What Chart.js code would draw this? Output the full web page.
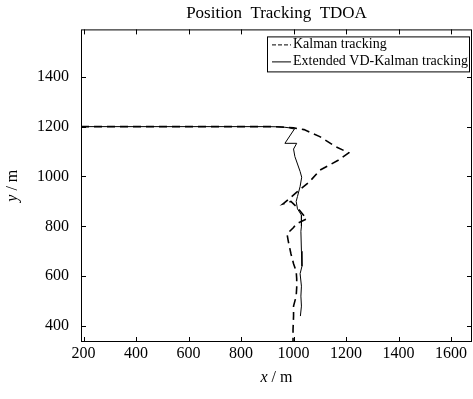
<!DOCTYPE html>
<html>
<head>
<meta charset="utf-8">
<script src="https://cdn.jsdelivr.net/npm/chart.js@4.4.1/dist/chart.umd.min.js"></script>
<style>
  html, body { margin: 0; padding: 0; background: #fff; }
  #wrap { width: 473px; height: 399px; }
</style>
</head>
<body>
<div id="wrap"><canvas id="chart"></canvas></div>
<script>
// Kalman tracking (dashed)
const kalmanX = [190, 930, 1000, 1040, 1100, 1160, 1210, 1170, 1100, 1060, 1010, 960, 990, 1010, 1050, 1010, 1000, 975, 980, 990, 1000, 1010, 1012, 1012, 1010, 1000, 1000, 998, 998];
const kalmanY = [1200, 1200, 1195, 1188, 1160, 1120, 1095, 1065, 1025, 978, 935, 890, 900, 880, 830, 810, 795, 770, 740, 690, 650, 620, 590, 555, 520, 480, 440, 385, 337];

// Extended VD-Kalman tracking (solid)
const extX = [190, 900, 955, 985, 1003, 967, 1012, 1000, 1005, 1015, 1025, 1031, 1025, 1015, 1010, 1015, 1030, 1030, 1028, 1030, 1032, 1025, 1030, 1028, 1030, 1026];
const extY = [1200, 1200, 1199, 1195, 1190, 1133, 1133, 1110, 1080, 1050, 1020, 997, 960, 920, 900, 870, 845, 800, 780, 700, 640, 610, 560, 520, 480, 440];

const seriesLabels = ['Kalman tracking', 'Extended VD-Kalman tracking'];
const titleText = 'Position  Tracking  TDOA';

const xTicks = [200, 400, 600, 800, 1000, 1200, 1400, 1600];
const yTicks = [400, 600, 800, 1000, 1200, 1400];
const xMin = 190, xMax = 1680;
const yMin = 336, yMax = 1590;

const toPts = (xs, ys) => xs.map((x, i) => ({ x: x, y: ys[i] }));
const serif = '"Liberation Serif", "DejaVu Serif", serif';

// box, inward ticks, axis titles and legend in MATLAB style
const matlabFrame = {
    id: 'matlabFrame',
    afterDraw(chart) {
        const { ctx, chartArea: a, scales } = chart;
        ctx.save();
        ctx.strokeStyle = '#000';
        ctx.lineWidth = 1;
        ctx.strokeRect(a.left + 0.5, a.top + 0.5, a.right - a.left - 1, a.bottom - a.top - 1);

        const tl = 5;
        ctx.beginPath();
        scales.x.ticks.forEach(t => {
            const px = Math.round(scales.x.getPixelForValue(t.value)) + 0.5;
            ctx.moveTo(px, a.bottom); ctx.lineTo(px, a.bottom - tl);
            ctx.moveTo(px, a.top); ctx.lineTo(px, a.top + tl);
        });
        scales.y.ticks.forEach(t => {
            const py = Math.round(scales.y.getPixelForValue(t.value)) + 0.5;
            ctx.moveTo(a.left, py); ctx.lineTo(a.left + tl, py);
            ctx.moveTo(a.right, py); ctx.lineTo(a.right - tl, py);
        });
        ctx.stroke();

        // axis titles: italic variable, upright unit
        const drawLabel = (v, rest, cx, cy) => {
            ctx.font = 'italic 16px ' + serif;
            const w1 = ctx.measureText(v).width;
            ctx.font = '16px ' + serif;
            const w2 = ctx.measureText(rest).width;
            let x0 = cx - (w1 + w2) / 2;
            ctx.textBaseline = 'middle';
            ctx.textAlign = 'left';
            ctx.font = 'italic 16px ' + serif;
            ctx.fillText(v, x0, cy);
            ctx.font = '16px ' + serif;
            ctx.fillText(rest, x0 + w1, cy);
        };
        ctx.fillStyle = '#000';
        drawLabel('x', ' / m', (a.left + a.right) / 2, 378);
        ctx.save();
        ctx.translate(13, (a.top + a.bottom) / 2);
        ctx.rotate(-Math.PI / 2);
        drawLabel('y', ' / m', 0, 0);
        ctx.restore();

        // legend box
        const lw = 202, lh = 35;
        const lx = a.right - 3 - lw, ly = a.top + 7;
        ctx.fillStyle = '#fff';
        ctx.fillRect(lx, ly, lw, lh);
        ctx.strokeRect(lx + 0.5, ly + 0.5, lw, lh);
        ctx.font = '14px ' + serif;
        ctx.textBaseline = 'middle';
        chart.data.datasets.forEach((ds, i) => {
            const yy = ly + 8 + i * 17;
            ctx.beginPath();
            ctx.setLineDash(ds.borderDash ? [4, 2] : []);
            ctx.lineWidth = 1;
            ctx.moveTo(lx + 5, yy + 0.5);
            ctx.lineTo(lx + 24, yy + 0.5);
            ctx.stroke();
            ctx.setLineDash([]);
            ctx.fillStyle = '#000';
            ctx.fillText(ds.label, lx + 26, yy);
        });
        ctx.restore();
    }
};

new Chart(document.getElementById('chart'), {
    type: 'scatter',
    data: {
        datasets: [
            {
                label: seriesLabels[0],
                data: toPts(kalmanX, kalmanY),
                showLine: true,
                borderColor: '#000',
                borderWidth: 1.6,
                borderDash: [8, 5],
                pointRadius: 0,
                tension: 0
            },
            {
                label: seriesLabels[1],
                data: toPts(extX, extY),
                showLine: true,
                borderColor: '#000',
                borderWidth: 1,
                pointRadius: 0,
                tension: 0
            }
        ]
    },
    options: {
        responsive: true,
        maintainAspectRatio: false,
        animation: false,
        layout: { padding: { left: 0, right: 1, top: 0, bottom: 0 } },
        plugins: {
            legend: { display: false },
            tooltip: { enabled: false },
            title: {
                display: true,
                text: titleText,
                fullSize: false,
                color: '#000',
                font: { family: serif, size: 17, weight: 'normal' },
                padding: { top: 3, bottom: 6 }
            }
        },
        scales: {
            x: {
                type: 'linear',
                min: xMin,
                max: xMax,
                afterBuildTicks: s => { s.ticks = xTicks.map(v => ({ value: v })); },
                afterFit: s => { s.height = 57; },
                grid: { drawOnChartArea: false, drawTicks: false },
                border: { display: false },
                ticks: { color: '#000', padding: 2, maxRotation: 0, autoSkip: false,
                         callback: v => String(v), font: { family: serif, size: 16 } }
            },
            y: {
                type: 'linear',
                min: yMin,
                max: yMax,
                afterBuildTicks: s => { s.ticks = yTicks.map(v => ({ value: v })); },
                afterFit: s => { s.width = 81; },
                grid: { drawOnChartArea: false, drawTicks: false },
                border: { display: false },
                ticks: { color: '#000', padding: 12, autoSkip: false,
                         callback: v => String(v), font: { family: serif, size: 16 } }
            }
        }
    },
    plugins: [matlabFrame]
});
</script>
</body>
</html>
